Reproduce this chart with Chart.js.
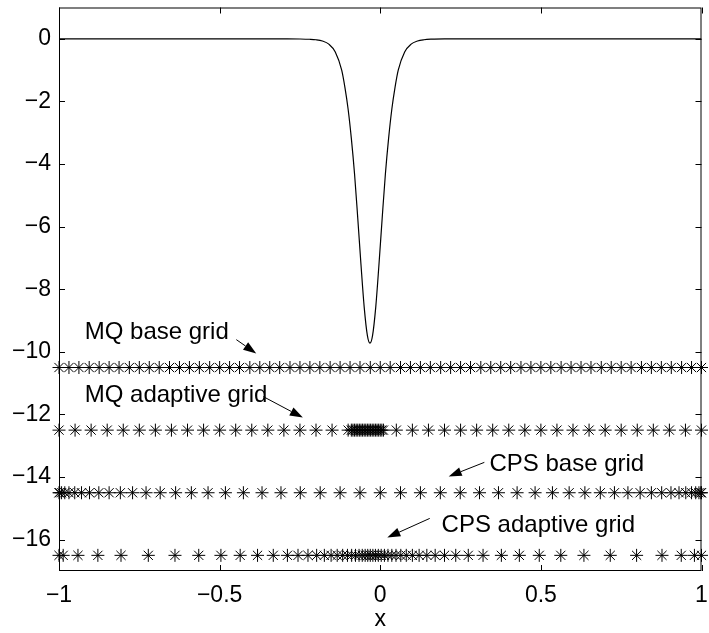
<!DOCTYPE html>
<html>
<head>
<meta charset="utf-8">
<script src="https://cdn.jsdelivr.net/npm/chart.js@4"></script>
<style>
  html, body { margin: 0; padding: 0; background: #fff; }
</style>
</head>
<body>
<canvas id="chart" width="709" height="633"></canvas>
<script>
// ===================== DATA =====================
const xTicks = [-1, -0.5, 0, 0.5, 1];
const yTicks = [0, -2, -4, -6, -8, -10, -12, -14, -16];

// solution curve
const curveX = [-1, -0.6, -0.4, -0.3, -0.25, -0.22, -0.2, -0.18, -0.16, -0.14, -0.12, -0.11, -0.1, -0.09,
  -0.08, -0.07, -0.06, -0.05, -0.04, -0.032, -0.024, -0.014, -0.004, 0.006, 0.016, 0.026, 0.036, 0.046,
  0.056, 0.076, 0.096, 0.116, 0.136, 0.16, 0.2, 0.3, 0.6, 1];
const curveY = [0, 0, 0, -0.002, -0.006, -0.015, -0.03, -0.07, -0.17, -0.42, -1.0, -1.55, -2.25, -3.18,
  -4.32, -5.73, -7.21, -8.57, -9.48, -9.72, -9.48, -8.57, -7.21, -5.73, -4.32, -3.18, -2.25, -1.55,
  -1.0, -0.42, -0.17, -0.07, -0.03, -0.012, -0.003, 0, 0, 0];

// node rows
const mqBaseY = -10.5;
const mqBaseX = [-1, -0.969, -0.938, -0.906, -0.875, -0.844, -0.813, -0.781, -0.75, -0.719, -0.688, -0.656,
  -0.625, -0.594, -0.563, -0.531, -0.5, -0.469, -0.438, -0.406, -0.375, -0.344, -0.313, -0.281, -0.25,
  -0.219, -0.188, -0.156, -0.125, -0.094, -0.063, -0.031, 0, 0.031, 0.063, 0.094, 0.125, 0.156, 0.188,
  0.219, 0.25, 0.281, 0.313, 0.344, 0.375, 0.406, 0.438, 0.469, 0.5, 0.531, 0.563, 0.594, 0.625, 0.656,
  0.688, 0.719, 0.75, 0.781, 0.813, 0.844, 0.875, 0.906, 0.938, 0.969, 1];

const mqAdaptY = -12.5;
const mqAdaptX = [-1, -0.95, -0.9, -0.85, -0.8, -0.75, -0.7, -0.65, -0.6, -0.55, -0.5, -0.45, -0.4, -0.35,
  -0.3, -0.25, -0.2, -0.15, -0.1, -0.09, -0.085, -0.08, -0.075, -0.07, -0.065, -0.06, -0.055, -0.05,
  -0.045, -0.04, -0.035, -0.03, -0.025, -0.02, -0.015, -0.01, -0.005, 0, 0.005, 0.01, 0.05, 0.1, 0.15,
  0.2, 0.25, 0.3, 0.35, 0.4, 0.45, 0.5, 0.55, 0.6, 0.65, 0.7, 0.75, 0.8, 0.85, 0.9, 0.95, 1];

const cpsBaseY = -14.5;
const cpsBaseX = [-1, -0.998, -0.992, -0.982, -0.969, -0.951, -0.930, -0.905, -0.876, -0.844, -0.809,
  -0.771, -0.729, -0.685, -0.637, -0.588, -0.536, -0.482, -0.426, -0.368, -0.309, -0.249, -0.187,
  -0.125, -0.063, 0, 0.063, 0.125, 0.187, 0.249, 0.309, 0.368, 0.426, 0.482, 0.536, 0.588, 0.637,
  0.685, 0.729, 0.771, 0.809, 0.844, 0.876, 0.905, 0.930, 0.951, 0.969, 0.982, 0.992, 0.998, 1];

const cpsAdaptY = -16.5;
const cpsAdaptX = [-1, -0.987, -0.941, -0.879, -0.807, -0.722, -0.639, -0.565, -0.496, -0.436, -0.382,
  -0.333, -0.289, -0.256, -0.225, -0.198, -0.174, -0.153, -0.134, -0.117, -0.102, -0.089, -0.077,
  -0.066, -0.056, -0.047, -0.039, -0.031, -0.023, -0.015, -0.006, 0.003, 0.013, 0.024, 0.036, 0.049,
  0.064, 0.081, 0.1, 0.121, 0.145, 0.171, 0.2, 0.235, 0.274, 0.32, 0.377, 0.433, 0.495, 0.562,
  0.634, 0.716, 0.798, 0.877, 0.937, 0.978, 1];

// annotations: text anchor and arrow tail -> head, in data units
const labels = [
  { text: "MQ base grid", x: -0.92, y: -9.38, from: [-0.448, -9.61], to: [-0.386, -10.05] },
  { text: "MQ adaptive grid", x: -0.92, y: -11.39, from: [-0.364, -11.43], to: [-0.241, -12.1] },
  { text: "CPS base grid", x: 0.34, y: -13.6, from: [0.324, -13.53], to: [0.213, -13.98] },
  { text: "CPS adaptive grid", x: 0.191, y: -15.54, from: [0.154, -15.32], to: [0.022, -15.93] }
];

const FONT = '"Liberation Sans", Arial, Helvetica, sans-serif';

// ===================== HELPERS =====================
function row(xs, y) {
  return xs.map(x => ({ x, y }));
}

function fmt(v) {
  return String(v).replace("-", "\u2212");
}

function starSet(xs, y) {
  return {
    data: row(xs, y),
    showLine: false,
    pointStyle: "star",
    pointRadius: 6.5,
    pointBorderColor: "#000",
    pointBorderWidth: 1,
    borderColor: "#000",
    clip: false
  };
}

// box, inward ticks, labels with arrows, axis title
const frame = {
  id: "frame",
  afterDraw(chart) {
    const ctx = chart.ctx;
    const a = chart.chartArea;
    const xs = chart.scales.x;
    const ys = chart.scales.y;
    const tl = 6;

    ctx.save();
    ctx.strokeStyle = "#000";
    ctx.lineWidth = 1;
    ctx.strokeRect(a.left + 0.5, a.top + 0.5, a.right - a.left - 1, a.bottom - a.top - 1);

    ctx.beginPath();
    xTicks.forEach(v => {
      const p = Math.round(xs.getPixelForValue(v)) + 0.5;
      ctx.moveTo(p, a.bottom);
      ctx.lineTo(p, a.bottom - tl);
      ctx.moveTo(p, a.top);
      ctx.lineTo(p, a.top + tl);
    });
    yTicks.forEach(v => {
      const p = Math.round(ys.getPixelForValue(v)) + 0.5;
      ctx.moveTo(a.left, p);
      ctx.lineTo(a.left + tl, p);
      ctx.moveTo(a.right, p);
      ctx.lineTo(a.right - tl, p);
    });
    ctx.stroke();

    // annotations
    ctx.fillStyle = "#000";
    ctx.font = "24px " + FONT;
    ctx.textAlign = "left";
    ctx.textBaseline = "middle";
    labels.forEach(l => {
      ctx.fillText(l.text, xs.getPixelForValue(l.x), ys.getPixelForValue(l.y));

      const x0 = xs.getPixelForValue(l.from[0]);
      const y0 = ys.getPixelForValue(l.from[1]);
      const x1 = xs.getPixelForValue(l.to[0]);
      const y1 = ys.getPixelForValue(l.to[1]);
      const ang = Math.atan2(y1 - y0, x1 - x0);
      const len = 13;
      const half = 4.5;
      const bx = x1 - len * Math.cos(ang);
      const by = y1 - len * Math.sin(ang);

      ctx.beginPath();
      ctx.moveTo(x0, y0);
      ctx.lineTo(bx, by);
      ctx.stroke();

      ctx.beginPath();
      ctx.moveTo(x1, y1);
      ctx.lineTo(bx + half * Math.sin(ang), by - half * Math.cos(ang));
      ctx.lineTo(bx - half * Math.sin(ang), by + half * Math.cos(ang));
      ctx.closePath();
      ctx.fill();
    });

    // x axis title
    ctx.textAlign = "center";
    ctx.font = "23px " + FONT;
    ctx.fillText("x", (a.left + a.right) / 2, 620);
    ctx.restore();
  }
};

// ===================== CHART =====================
new Chart(document.getElementById("chart"), {
  type: "scatter",
  data: {
    datasets: [
      {
        data: curveX.map((x, i) => ({ x, y: curveY[i] })),
        showLine: true,
        borderColor: "#000",
        borderWidth: 1.2,
        pointRadius: 0,
        cubicInterpolationMode: "monotone"
      },
      starSet(mqBaseX, mqBaseY),
      starSet(mqAdaptX, mqAdaptY),
      starSet(cpsBaseX, cpsBaseY),
      starSet(cpsAdaptX, cpsAdaptY)
    ]
  },
  options: {
    responsive: false,
    animation: false,
    devicePixelRatio: 1,
    layout: { padding: { top: 6, right: 1, left: 0, bottom: 0 } },
    plugins: { legend: { display: false }, tooltip: { enabled: false } },
    scales: {
      x: {
        type: "linear",
        min: -1,
        max: 1,
        grid: { display: false, drawTicks: false },
        border: { display: false },
        afterBuildTicks: s => { s.ticks = xTicks.map(v => ({ value: v })); },
        afterFit: s => { s.height = 62; s.paddingLeft = 0; s.paddingRight = 0; },
        ticks: {
          autoSkip: false,
          maxRotation: 0,
          padding: 11,
          color: "#000",
          font: { family: FONT, size: 23 },
          callback: v => fmt(v)
        }
      },
      y: {
        type: "linear",
        min: -17,
        max: 1,
        grid: { display: false, drawTicks: false },
        border: { display: false },
        afterBuildTicks: s => { s.ticks = yTicks.map(v => ({ value: v })); },
        afterFit: s => { s.width = 59; s.paddingTop = 0; s.paddingBottom = 0; },
        ticks: {
          autoSkip: false,
          padding: 8,
          color: "#000",
          font: { family: FONT, size: 23 },
          callback: v => fmt(v)
        }
      }
    }
  },
  plugins: [frame]
});
</script>
</body>
</html>
